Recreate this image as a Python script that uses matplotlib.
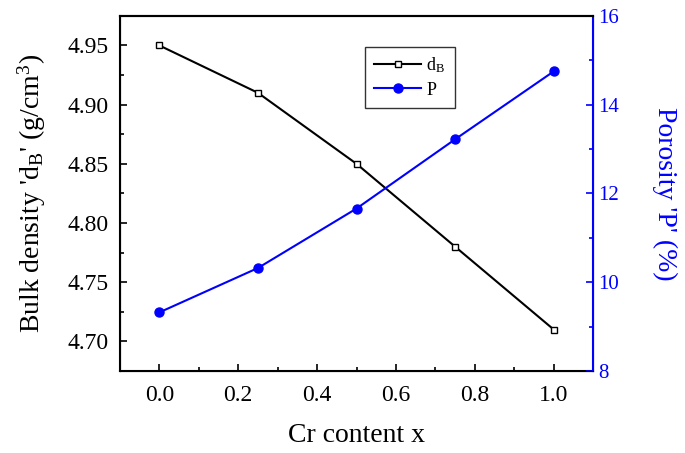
import numpy as np
from matplotlib import pyplot as plt
from matplotlib.ticker import MultipleLocator

plt.rcParams['font.family'] = 'Liberation Serif'
plt.rcParams['mathtext.fontset'] = 'stix'

cr_content = [0.0, 0.25, 0.5, 0.75, 1.0]
bulk_density = [4.95, 4.91, 4.85, 4.78, 4.71]
porosity = [9.32, 10.32, 11.66, 13.22, 14.75]

fig = plt.figure(figsize=(6.85, 4.53), dpi=100)
ax = fig.add_axes([0.175, 0.181, 0.691, 0.784])
ax2 = ax.twinx()

l1, = ax.plot(cr_content, bulk_density, color="black", lw=1.5, marker="s",
              markersize=5, markerfacecolor="white", markeredgecolor="black",
              markeredgewidth=1.0, label="d$_\\mathregular{B}$")
l2, = ax2.plot(cr_content, porosity, color="blue", lw=1.5, marker="o",
               markersize=6.5, label="P")

ax.set_xlim(-0.1, 1.1)
ax.set_ylim(4.675, 4.975)
ax2.set_ylim(8, 16)

ax.xaxis.set_major_locator(MultipleLocator(0.2))
ax.xaxis.set_minor_locator(MultipleLocator(0.1))
ax.yaxis.set_major_locator(MultipleLocator(0.05))
ax.yaxis.set_minor_locator(MultipleLocator(0.025))
ax2.yaxis.set_major_locator(MultipleLocator(2))
ax2.yaxis.set_minor_locator(MultipleLocator(1))
ax.xaxis.set_major_formatter(plt.FormatStrFormatter("%.1f"))
ax.yaxis.set_major_formatter(plt.FormatStrFormatter("%.2f"))

ax.tick_params(which="both", direction="in", top=False, labelsize=17, width=1.2)
ax.tick_params(which="major", length=5)
ax.tick_params(which="minor", length=3)
ax.tick_params(axis="x", pad=10)
ax.tick_params(axis="y", pad=8)
ax2.tick_params(which="both", direction="in", colors="blue", labelsize=15, width=1.2)
ax2.tick_params(which="major", length=5)
ax2.tick_params(which="minor", length=3)

for s in ["left", "top", "bottom"]:
    ax.spines[s].set_linewidth(1.5)
ax2.spines["right"].set_color("blue")
ax2.spines["right"].set_linewidth(1.5)
ax2.spines["top"].set_linewidth(1.5)

ax.set_xlabel("Cr content x", fontsize=20, labelpad=12)
ax.set_ylabel("Bulk density 'd$_\\mathregular{B}$' (g/cm$^\\mathregular{3}$)", fontsize=20, labelpad=14)
ax2.set_ylabel("Porosity 'P' (%)", fontsize=20, color="blue", rotation=270, labelpad=42)

leg = ax.legend(handles=[l1, l2], loc="upper left", bbox_to_anchor=(0.518, 0.913),
                borderaxespad=0, fontsize=13, frameon=True, fancybox=False,
                edgecolor="black", handlelength=2.6, handletextpad=0.3,
                borderpad=0.5, labelspacing=0.35)
leg.get_frame().set_linewidth(1.0)

fig.savefig("out.png", dpi=100)
